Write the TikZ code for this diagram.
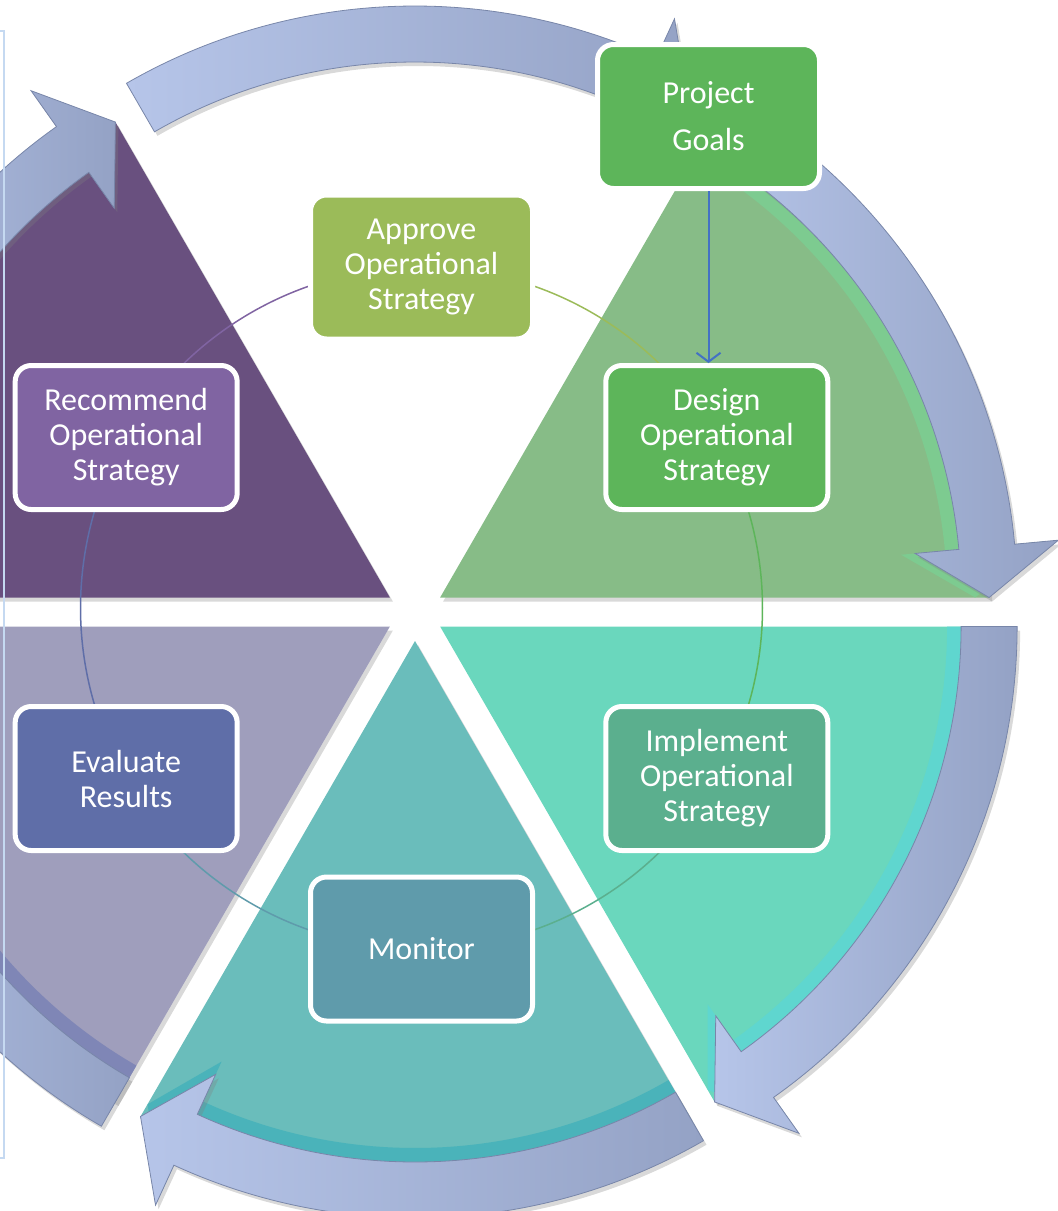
\documentclass[tikz,border=0pt]{standalone}
\usepackage{fontspec}
\setmainfont{Carlito}
\usetikzlibrary{positioning, calc, arrows.meta, shadows}

\definecolor{slicegreen}{HTML}{87BC87}
\definecolor{rimgreen}{HTML}{7DCB90}
\definecolor{slicepurple}{HTML}{69507F}
\definecolor{slicegrey}{HTML}{9F9EBC}
\definecolor{rimgrey}{HTML}{7F86B6}
\definecolor{sliceteal}{HTML}{6ABDBB}
\definecolor{rimteal}{HTML}{4AB3BA}
\definecolor{sliceaqua}{HTML}{6AD7BD}
\definecolor{rimaqua}{HTML}{5FD6CF}
\definecolor{arrowlight}{HTML}{B6C5E9}
\definecolor{arrowdark}{HTML}{94A2C5}
\definecolor{arrowedge}{HTML}{7886A9}
\definecolor{goalfill}{HTML}{5DB55A}
\definecolor{approvefill}{HTML}{9BBB59}
\definecolor{designfill}{HTML}{5DB55A}
\definecolor{implementfill}{HTML}{5BAF8E}
\definecolor{monitorfill}{HTML}{5F9BAB}
\definecolor{evaluatefill}{HTML}{5F6EA8}
\definecolor{recommendfill}{HTML}{8064A2}
\definecolor{goalline}{HTML}{4472C4}
\definecolor{framecol}{HTML}{C5D9F1}

\pgfdeclarelayer{back}
\pgfdeclarelayer{links}
\pgfsetlayers{back,links,main}

\begin{document}
\begin{tikzpicture}[
        x=1pt, y=1pt,
        stage/.style={
            rectangle, rounded corners=16pt, draw=white, line width=5pt,
            minimum width=222pt, minimum height=144pt, align=center,
            text=white, font=\fontsize{32}{35}\selectfont
        },
        slice/.style={drop shadow={opacity=.3, shadow xshift=3pt, shadow yshift=-4pt}},
        cyclearrow/.style={
            left color=arrowlight, right color=arrowdark, draw=arrowedge, line width=.8pt,
            drop shadow={opacity=.3, shadow xshift=3pt, shadow yshift=-4pt}
        },
        link/.style={line width=1.5pt},
    ]
    \useasboundingbox (0,0) rectangle (1058,-1211);
    \coordinate (pie) at (415,-612);
    \coordinate (ring) at (421.5,-608);

    % Frame edge
    \draw [framecol, line width=2pt] (-10,-31) -- (4,-31) -- (4,-1158) -- (-10,-1158);

    % Pie slices with rims
    \begin{pgfonlayer}{back}
    \foreach \a/\col/\rim in {0/slicegreen/rimgreen, 120/slicepurple/slicepurple,
            180/slicegrey/rimgrey, 240/sliceteal/rimteal, 300/sliceaqua/rimaqua}{
        \begin{scope}[shift={(pie)}, shift={(\a+30:29)}]
            \fill [slice, fill=\col] (0,0) -- (\a:549)
                arc[start angle=\a, end angle=\a+60, radius=549] -- cycle;
            \fill [\rim] (\a+60:563) arc[start angle=\a+60, end angle=\a+5.3, radius=563]
                -- (\a+5.3:607) -- (\a:535) -- (\a+5.3:463) -- (\a+5.3:507)
                arc[start angle=\a+5.3, end angle=\a+60, radius=507] -- cycle;
        \end{scope}
    }

    % Cycle arrows
    \foreach \a in {0,60,...,300}{
        \begin{scope}[shift={(pie)}, shift={(\a+30:29)}]
            \path [cyclearrow] (\a+60:577) arc[start angle=\a+60, end angle=\a+5.3, radius=577]
                -- (\a+5.3:621) -- (\a:549) -- (\a+5.3:477) -- (\a+5.3:521)
                arc[start angle=\a+5.3, end angle=\a+60, radius=521] -- cycle;
        \end{scope}
    }
    \end{pgfonlayer}

    % Stage boxes
    \node [stage, fill=goalfill, font=\fontsize{32}{47}\selectfont] (goals) at (708.5,-116.5) {Project\\Goals};
    \node [stage, fill=approvefill] (approve) at ($(ring)+(90:341)$) {Approve\\Operational\\Strategy};
    \node [stage, fill=designfill] (design) at ($(ring)+(30:341)$) {Design\\Operational\\Strategy};
    \node [stage, fill=implementfill] (implement) at ($(ring)+(-30:341)$) {Implement\\Operational\\Strategy};
    \node [stage, fill=monitorfill] (monitor) at ($(ring)+(-90:341)$) {Monitor};
    \node [stage, fill=evaluatefill] (evaluate) at ($(ring)+(210:341)$) {Evaluate\\Results};
    \node [stage, fill=recommendfill] (recommend) at ($(ring)+(150:341)$) {Recommend\\Operational\\Strategy};

    % Links
    \begin{pgfonlayer}{links}
    \draw [link, approvefill] (approve.center) arc[start angle=90, end angle=30, radius=341];
    \draw [link, designfill] (design.center) arc[start angle=30, end angle=-30, radius=341];
    \draw [link, implementfill] (implement.center) arc[start angle=-30, end angle=-90, radius=341];
    \draw [link, monitorfill] (monitor.center) arc[start angle=270, end angle=210, radius=341];
    \draw [link, evaluatefill] (evaluate.center) arc[start angle=210, end angle=150, radius=341];
    \draw [link, recommendfill] (recommend.center) arc[start angle=150, end angle=90, radius=341];
    \end{pgfonlayer}

    \draw [line width=2pt, goalline, -{Straight Barb[length=9pt, width=24pt]}]
        (goals.south) -- (goals.south |- design.north);
\end{tikzpicture}
\end{document}
